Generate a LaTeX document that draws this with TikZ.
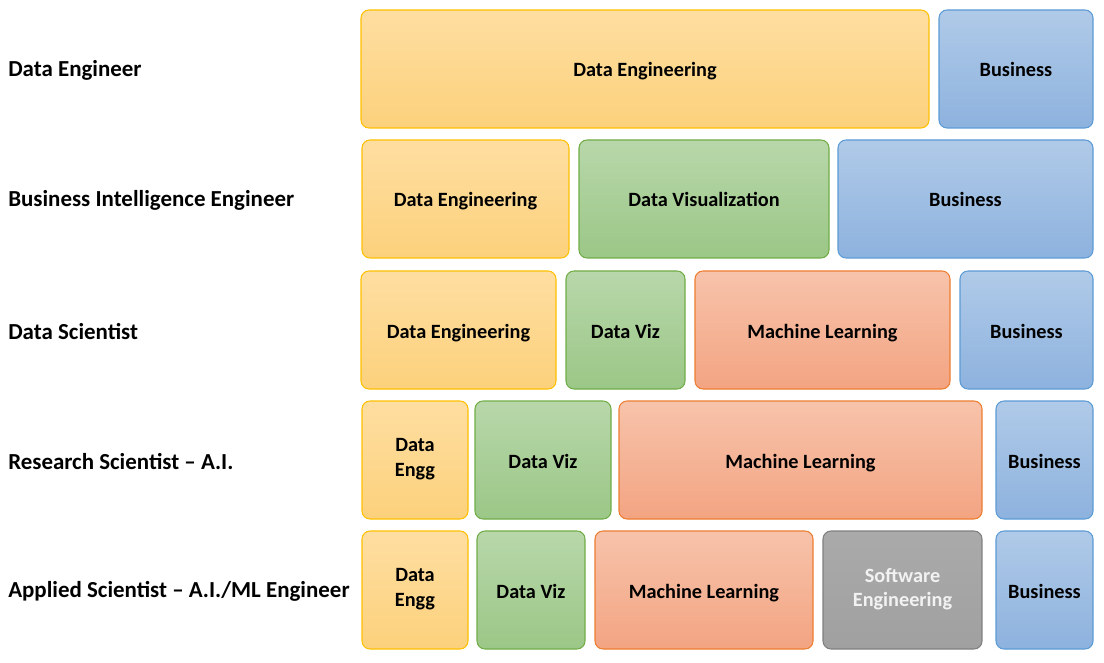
\documentclass[tikz,border=0pt]{standalone}
\usepackage{fontspec}
\setmainfont{Carlito}
\usepackage{xcolor}

\definecolor{engTop}{HTML}{FEDEA1}
\definecolor{engBot}{HTML}{FCD17C}
\definecolor{engLine}{HTML}{FFC000}
\definecolor{vizTop}{HTML}{B8D7AA}
\definecolor{vizBot}{HTML}{9BC787}
\definecolor{vizLine}{HTML}{70AD47}
\definecolor{mlTop}{HTML}{F7C3AB}
\definecolor{mlBot}{HTML}{F3A482}
\definecolor{mlLine}{HTML}{ED7D31}
\definecolor{bizTop}{HTML}{B0CAE8}
\definecolor{bizBot}{HTML}{8DB2DE}
\definecolor{bizLine}{HTML}{5B9BD5}
\definecolor{swTop}{HTML}{AAAAAA}
\definecolor{swBot}{HTML}{A0A0A0}
\definecolor{swLine}{HTML}{7F7F7F}

% invisible props so every block label sits on the same baseline
\newcommand{\topprop}{\rule{0pt}{16pt}}
\newcommand{\botprop}{\rule[-4pt]{0pt}{4pt}}

\tikzset{
  block/.style={draw, line width=0.8pt, rounded corners=6pt, inner sep=0pt,
    align=center, font=\fontsize{15.2}{18.5}\selectfont\bfseries,
    execute at begin node=\topprop, execute at end node=\botprop},
  engg/.style={block, draw=engLine, top color=engTop, bottom color=engBot},
  viz/.style={block, draw=vizLine, top color=vizTop, bottom color=vizBot},
  ml/.style={block, draw=mlLine, top color=mlTop, bottom color=mlBot},
  biz/.style={block, draw=bizLine, top color=bizTop, bottom color=bizBot},
  sw/.style={block, draw=swLine, top color=swTop, bottom color=swBot, text=white!95!black},
  role/.style={anchor=west, inner sep=0pt, yshift=-1.2pt,
    font=\fontsize{17.2}{20}\selectfont\bfseries}
}

% block from pixel corner (x1,y1) to (x2,y2)
\newcommand{\blk}[7]{%
  \node[#1, minimum width={(#5-#3)*0.75pt}, minimum height={(#6-#4)*0.75pt}]
    (#2) at ({(#3+#5)/2},{(#4+#6)/2}) {#7};}

\begin{document}
\begin{tikzpicture}[x=0.75pt,y=-0.75pt]
  \useasboundingbox (0,0) rectangle (1104,663);

  % job titles
  \node[role] (r1) at (8,69)  {Data Engineer};
  \node[role] (r2) at (8,199) {Business Intelligence Engineer};
  \node[role] (r3) at (8,330) {Data Scientist};
  \node[role] (r4) at (8,460) {Research Scientist -- A.I.};
  \node[role] (r5) at (8,590) {Applied Scientist -- A.I./ML Engineer};

  % row 1
  \blk{engg}{de1}{361}{10}{929}{128}{Data Engineering}
  \blk{biz}{biz1}{939}{10}{1093}{128}{Business}

  % row 2
  \blk{engg}{de2}{362}{140}{569}{258}{Data Engineering}
  \blk{viz}{dv2}{579}{140}{829}{258}{Data Visualization}
  \blk{biz}{biz2}{838}{140}{1093}{258}{Business}

  % row 3
  \blk{engg}{de3}{361}{271}{556}{389}{Data Engineering}
  \blk{viz}{dv3}{566}{271}{685}{389}{Data Viz}
  \blk{ml}{ml3}{695}{271}{950}{389}{Machine Learning}
  \blk{biz}{biz3}{960}{271}{1093}{389}{Business}

  % row 4
  \blk{engg}{de4}{362}{401}{468}{519}{Data\\Engg}
  \blk{viz}{dv4}{475}{401}{611}{519}{Data Viz}
  \blk{ml}{ml4}{619}{401}{982}{519}{Machine Learning}
  \blk{biz}{biz4}{996}{401}{1093}{519}{Business}

  % row 5
  \blk{engg}{de5}{362}{531}{468}{649}{Data\\Engg}
  \blk{viz}{dv5}{477}{531}{585}{649}{Data Viz}
  \blk{ml}{ml5}{595}{531}{813}{649}{Machine Learning}
  \blk{sw}{sw5}{823}{531}{982}{649}{Software\\Engineering}
  \blk{biz}{biz5}{996}{531}{1093}{649}{Business}
\end{tikzpicture}
\end{document}
